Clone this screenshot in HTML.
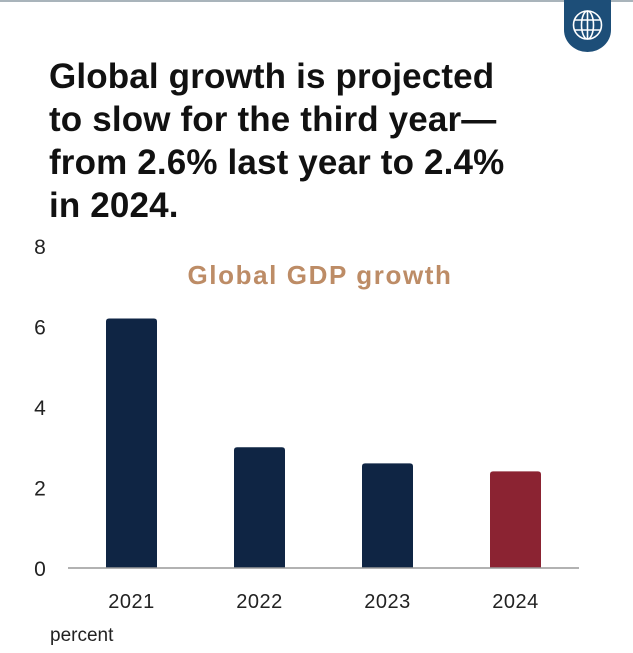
<!DOCTYPE html>
<html><head><meta charset="utf-8"><style>
body{margin:0;width:633px;height:653px;background:#fff;overflow:hidden;font-family:"Liberation Sans",sans-serif;position:relative}
.title{position:absolute;left:49px;top:55px;font-size:35px;font-weight:bold;line-height:43px;color:#111;letter-spacing:0.15px;white-space:nowrap}
</style></head><body>
<div style="position:absolute;left:0;top:0;width:633px;height:2px;background:#a9b4bb"></div>
<svg style="position:absolute;left:564px;top:0" width="47" height="52" viewBox="0 0 47 52">
<path d="M0 0H47V30A23.5 22 0 0 1 0 30Z" fill="#1d4e78"/>
<g fill="none" stroke="#fff" stroke-width="1.6"><circle cx="23.5" cy="25" r="14"/><ellipse cx="23.5" cy="25" rx="6" ry="14"/><path d="M10 20H37M10 30H37M23.5 11V39"/></g>
</svg>
<div class="title">Global growth is projected<br>to slow for the third year—<br>from 2.6% last year to 2.4%<br>in 2024.</div>
<svg id="chart" width="633" height="653" style="position:absolute;left:0;top:0"></svg>
<script>
const categories=["2021","2022","2023","2024"];
const values=[6.2,3.0,2.6,2.4];
const colors=["#0f2544","#0f2544","#0f2544","#8b2332"];
const yTicks=[0,2,4,6,8];
const NS="http://www.w3.org/2000/svg";
const svg=document.getElementById('chart');
const y0=568,pxPerUnit=40.25;
function yScale(v){return y0-v*pxPerUnit;}
function xScale(i){return 106+i*128;}
const barW=51;
function mk(t,a){const e=document.createElementNS(NS,t);for(const k in a)e.setAttribute(k,a[k]);svg.appendChild(e);return e;}
const sub=mk('text',{x:320,y:284,'text-anchor':'middle','font-size':26,'font-weight':'bold','letter-spacing':1.6,fill:'#bd8c66','font-family':'Liberation Sans, sans-serif'});
sub.textContent='Global GDP growth';


yTicks.forEach(t=>{
 const e=mk('text',{x:40,y:yScale(t)+8,'text-anchor':'middle','font-size':21,fill:'#222','font-family':'Liberation Sans, sans-serif'});
 e.textContent=t;
 
 
});
categories.forEach((c,i)=>{
 const v=values[i];
 const r=mk('path',{d:`M${xScale(i)} ${y0}V${yScale(v)+3}q0 -3 3 -3h${barW-6}q3 0 3 3V${y0}Z`,fill:colors[i]});
 
 
 const l=mk('text',{x:xScale(i)+barW/2,y:608,'text-anchor':'middle','font-size':20,'letter-spacing':0.5,fill:'#222','font-family':'Liberation Sans, sans-serif'});
 l.textContent=c;
 
 
});
const ax=mk('line',{x1:68,x2:579,y1:y0,y2:y0,stroke:'#999','stroke-width':1.5});


const u=mk('text',{x:50,y:641,'font-size':19,fill:'#222','font-family':'Liberation Sans, sans-serif'});
u.textContent='percent';


</script>
</body></html>
